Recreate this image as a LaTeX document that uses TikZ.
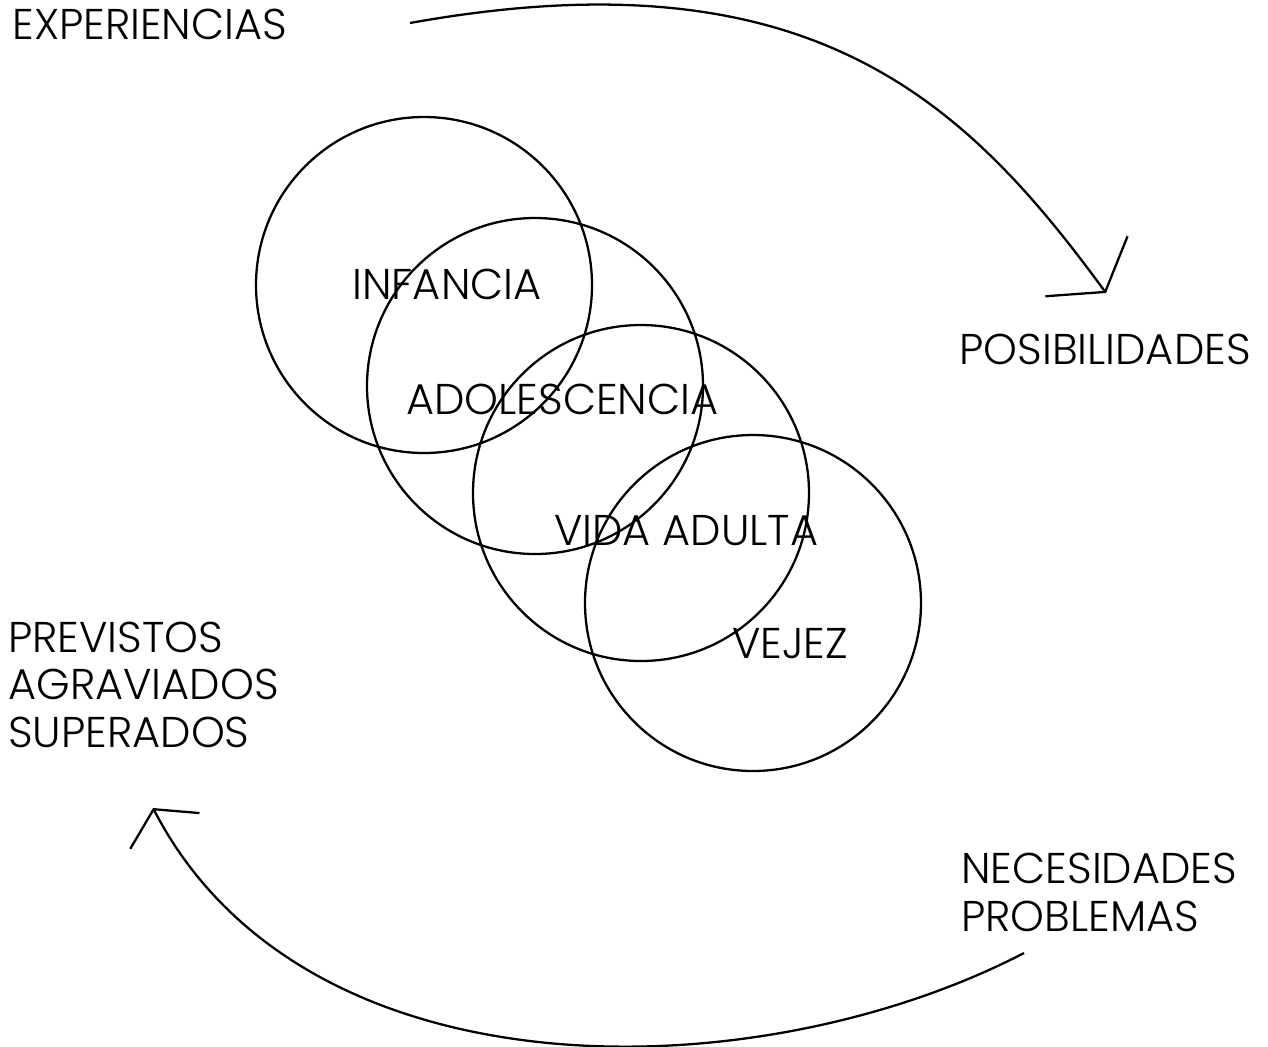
\documentclass[tikz,border=0pt]{standalone}
\usepackage{fontspec}
\setmainfont{Poppins Light}
\usetikzlibrary{arrows.meta}

\begin{document}
\begin{tikzpicture}[x=0.02cm, y=-0.02cm,
    ring/.style={line width=1.3pt},
    flow/.style={line width=1.3pt},
    word/.style={inner sep=0pt, anchor=base west, font=\fontsize{24.5}{28}\selectfont}]
			%%%%% START %%%%%
			\useasboundingbox (0, 0) rectangle (1268, 1046);

			\draw[ring] (424, 285) circle (168);
			\draw[ring] (535, 386) circle (168);
			\draw[ring] (641, 493) circle (168);
			\draw[ring] (753, 603) circle (168);

			\node[word] (infancia) at (352, 299) {INFANCIA};
			\node[word] (adolesc) at (406, 414) {ADOLESCENCIA};
			\node[word] (adulta) at (554, 545) {VIDA ADULTA};
			\node[word] (vejez) at (732, 658) {VEJEZ};

			\node[word] (exper) at (12, 39) {EXPERIENCIAS};
			\node[word] (posib) at (959, 364) {POSIBILIDADES};
			\node[word] (neces) at (961, 883) {NECESIDADES};
			\node[word] (probl) at (961, 931) {PROBLEMAS};
			\node[word] (previs) at (8, 652) {PREVISTOS};
			\node[word] (agrav) at (8, 699) {AGRAVIADOS};
			\node[word] (super) at (8, 747) {SUPERADOS};

			\coordinate (topfrom) at (410, 23);
			\coordinate (topto) at (1106, 293);
			\coordinate (botfrom) at (1024, 953);
			\coordinate (botto) at (153, 808);

			\draw[flow, -{Straight Barb[length=0.636cm, width=2.035cm]}]
				(topfrom) .. controls (810, -49) and (965, 100) .. (topto);
			\draw[flow, -{Straight Barb[length=0.49cm, width=1.56cm]}]
				(botfrom) .. controls (758, 1091) and (305, 1102) .. (botto);
			%%%%% END %%%%%
\end{tikzpicture}
\end{document}
